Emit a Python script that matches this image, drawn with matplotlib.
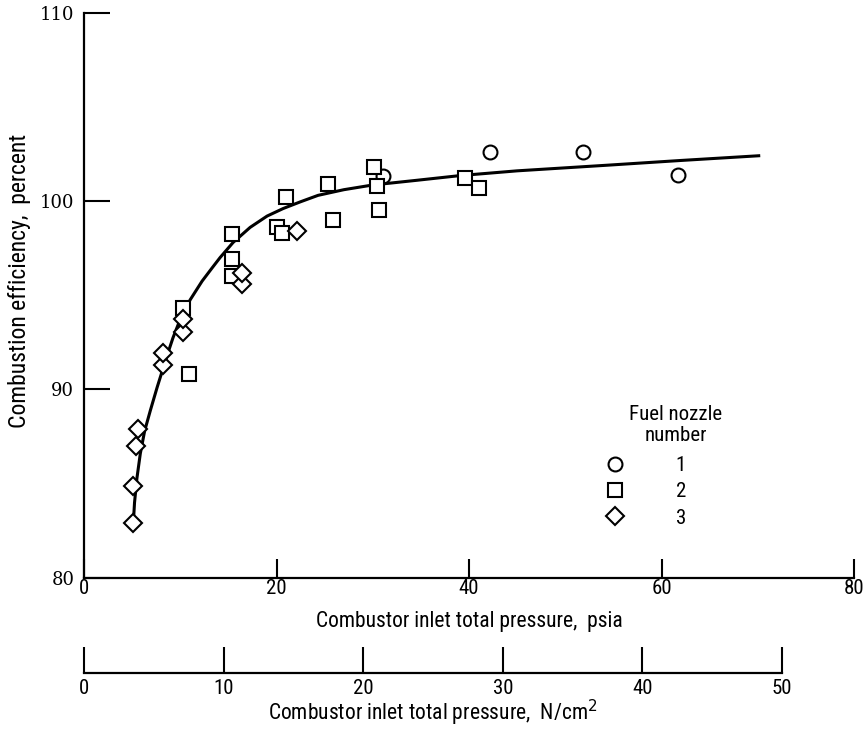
import matplotlib
matplotlib.use("Agg")
import matplotlib.pyplot as plt
from matplotlib.lines import Line2D
from matplotlib import font_manager as fm

PSI_TO_NCM2 = 0.6895

# fuel nozzle 1
nozzle1_psia = [31.1, 42.2, 51.8, 61.7]
nozzle1_eff = [101.3, 102.6, 102.6, 101.4]

# fuel nozzle 2
nozzle2_psia = [10.3, 10.9, 15.4, 15.4, 15.4, 20.1, 20.6, 21.0, 25.3, 25.9,
                30.1, 30.4, 30.7, 39.6, 41.0]
nozzle2_eff = [94.3, 90.8, 98.25, 96.9, 96.0, 98.6, 98.3, 100.2, 100.9, 99.0,
               101.8, 100.8, 99.5, 101.2, 100.7]

# fuel nozzle 3
nozzle3_psia = [5.1, 5.1, 5.4, 5.6, 8.2, 8.2, 10.3, 10.3, 16.4, 16.4, 22.1]
nozzle3_eff = [82.9, 84.9, 87.0, 87.9, 91.3, 91.95, 93.05, 93.75, 95.6, 96.2, 98.4]

# faired curve through the data
curve_psia = [5.1, 5.25, 5.5, 5.85, 6.3, 6.9, 7.59, 8.11, 8.63, 9.25, 9.98, 11.02,
              12.27, 13.31, 14.14, 15.49, 17.26, 19.02, 20.69, 22.45, 24.32, 27.0,
              30.0, 34.6, 39.1, 45.0, 54.4, 62.0, 70.1]
curve_eff = [82.7, 84.0, 85.3, 86.6, 87.8, 88.9, 90.1, 90.95, 91.8, 92.75, 93.7, 94.75,
             95.75, 96.45, 97.0, 97.8, 98.6, 99.2, 99.6, 99.95, 100.3, 100.6,
             100.85, 101.1, 101.35, 101.6, 101.9, 102.15, 102.4]

psia_ticks = [0, 20, 40, 60, 80]
eff_ticks = [80, 90, 100, 110]
ncm2_ticks = [0, 10, 20, 30, 40, 50]
nozzle_labels = ["1", "2", "3"]

# pick a condensed sans face if there is one
installed = {f.name for f in fm.fontManager.ttflist}
SANS = "DejaVu Sans"
for name in ["Liberation Sans Narrow", "Roboto Condensed", "Open Sans Condensed"]:
    if name in installed:
        SANS = name
        break
SERIF = "DejaVu Serif"

W, H = 865, 729
fig = plt.figure(figsize=(W / 100, H / 100), dpi=100)

x0, x1 = 84, 854
y_top, y_bot = 12.5, 578
ax = fig.add_axes([x0 / W, 1 - y_bot / H, (x1 - x0) / W, (y_bot - y_top) / H])

ax.plot(curve_psia, curve_eff, color="black", lw=2.2, zorder=2)
ax.plot(nozzle1_psia, nozzle1_eff, "o", ms=10, mfc="white", mec="black", mew=1.5, ls="none", zorder=3)
ax.plot(nozzle2_psia, nozzle2_eff, "s", ms=10, mfc="white", mec="black", mew=1.5, ls="none", zorder=3)
ax.plot(nozzle3_psia, nozzle3_eff, "D", ms=9.5, mfc="white", mec="black", mew=1.5, ls="none", zorder=4)

ax.set_xlim(0, 80)
ax.set_ylim(80, 110)
ax.spines["top"].set_visible(False)
ax.spines["right"].set_visible(False)
for s in ("left", "bottom"):
    ax.spines[s].set_linewidth(1.6)

ax.set_xticks(psia_ticks)
ax.set_yticks(eff_ticks)
ax.tick_params(axis="x", direction="in", length=14, width=1.5, pad=1,
               labelsize=15, labelfontfamily=SANS)
ax.tick_params(axis="y", direction="in", length=19, width=1.5, pad=7,
               labelsize=13, labelfontfamily=SERIF)

ax.set_xlabel("Combustor inlet total pressure,  psia", family=SANS, fontsize=15.5)
ax.xaxis.set_label_coords(0.501, -0.058)
ax.set_ylabel("Combustion efficiency,  percent", family=SANS, fontsize=17)
ax.yaxis.set_label_coords(-0.069, 0.525)

# legend
handles = [
    Line2D([], [], marker="o", ms=10, mfc="white", mec="black", mew=1.5, ls="none"),
    Line2D([], [], marker="s", ms=10, mfc="white", mec="black", mew=1.5, ls="none"),
    Line2D([], [], marker="D", ms=9.5, mfc="white", mec="black", mew=1.5, ls="none"),
]
leg = ax.legend(handles, nozzle_labels, loc="upper left",
                bbox_to_anchor=((605 - x0) / (x1 - x0), (y_bot - 456) / (y_bot - y_top)),
                frameon=False, borderpad=0, borderaxespad=0, handlelength=1.0,
                handletextpad=2.4, labelspacing=0.35,
                prop={"family": SANS, "size": 15})
ax.text((676 - x0) / (x1 - x0), (y_bot - 425) / (y_bot - y_top), "Fuel nozzle\nnumber",
        transform=ax.transAxes, ha="center", va="center", family=SANS, fontsize=15,
        linespacing=1.15)

# second scale in SI units
y_si = 673
ax2 = fig.add_axes([x0 / W, 1 - y_si / H, (x1 - x0) / W, 1e-4])
ax2.set_xlim(0, 80 * PSI_TO_NCM2)
ax2.set_ylim(0, 1)
for s in ("top", "left", "right"):
    ax2.spines[s].set_visible(False)
ax2.spines["bottom"].set_linewidth(1.6)
ax2.spines["bottom"].set_bounds(0, 50)
ax2.set_yticks([])
ax2.set_xticks(ncm2_ticks)
ax2.tick_params(axis="x", direction="in", length=19, width=1.5, pad=4,
                labelsize=15, labelfontfamily=SANS)
ax2.patch.set_visible(False)

fig.text(433 / W, 1 - 713 / H, "Combustor inlet total pressure,  N/cm$^2$",
         ha="center", va="center", family=SANS, fontsize=15.5)

fig.savefig("out.png", dpi=100)
